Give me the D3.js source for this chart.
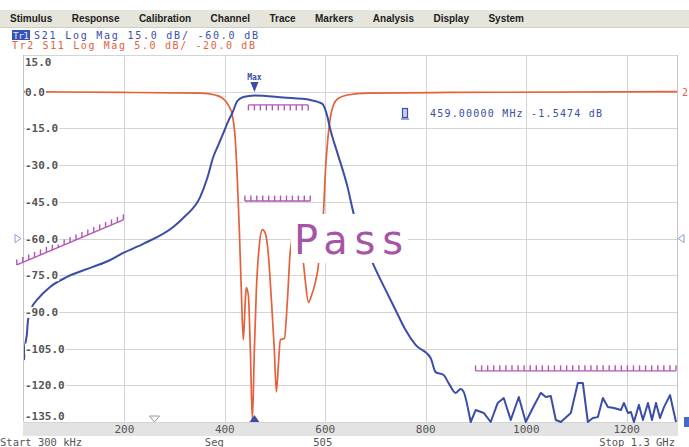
<!DOCTYPE html>
<html><head><meta charset="utf-8">
<script src="https://cdn.jsdelivr.net/npm/d3@7"></script>
<style>body{margin:0;background:#fff}svg{display:block}</style>
</head><body><svg id="c" width="689" height="447"></svg>
<script>
// ---------- data ----------
const menuItems = ["Stimulus","Response","Calibration","Channel","Trace","Markers","Analysis","Display","System"];
const tr1Label = "S21 Log Mag 15.0 dB/ -60.0 dB";
const tr2Label = "Tr2 S11 Log Mag 5.0 dB/ -20.0 dB";
const yTicks = [15,0,-15,-30,-45,-60,-75,-90,-105,-120,-135];
const xTicks = [200,400,600,800,1000,1200];
const xDomain = [0.3,1300];
const s21Domain = [-135,15];
const s11Domain = [-45,5];
const refS21 = -60;
const markerFreq = 459;
const markerText = "459.00000 MHz -1.5474 dB";

const s21Freq = [0.3,2.3,6.3,8.3,16.2,26.2,52.1,86.0,137.8,167.8,197.6,237.5,297.3,319.2,351.1,365.1,377.0,387.0,397.0,406.9,414.9,424.9,436.8,459,516.6,570.4,594.3,604.3,610.3,624.2,644.2,656.1,696.0,719.9,739.8,759.8,779.7,809.6,819.6,835.5,845.5,859.5,869.4,875.4,883.4,889.4,899.3,915.3,929.2,943.2,955.2,969.1,985.1,999.0,1013.0,1028.9,1038.9,1048.8,1058.8,1068.8,1088.7,1102.6,1112.6,1122.6,1132.5,1142.5,1152.5,1162.4,1174.4,1188.4,1194.3,1202.3,1208.3,1214.3,1224.2,1232.2,1242.2,1250.2,1258.2,1266.1,1274.1,1286.1,1298.0];
const s21Mag = [-109.7,-104.3,-98.6,-93.3,-88.0,-85.1,-79.8,-75.7,-71.6,-69.2,-65.9,-62.2,-55.3,-51.2,-43.0,-35.3,-26.7,-21.8,-16.9,-12.0,-8.7,-3.8,-2.2,-1.55,-2.4,-3.4,-5.0,-10.3,-15.7,-25.1,-38.9,-49.6,-70.8,-81.0,-89.2,-97.4,-103.5,-108.8,-114.6,-115.8,-119.1,-123.1,-121.5,-122.7,-128.9,-135,-130.1,-131.3,-135,-127.2,-125.2,-134.2,-124.8,-135,-129.3,-123.1,-124.8,-124.4,-134.2,-135,-131.3,-119.1,-119.1,-135,-133.4,-133.0,-125.2,-128.9,-129.3,-130.1,-127.2,-131.3,-130.9,-135,-128.0,-134.2,-127.2,-134.2,-127.2,-133.4,-128.9,-124.0,-135];

const s11Freq = [0.3,191.7,351.1,381.0,395.0,406.9,414.9,420.9,424.9,428.9,432.8,436.8,440.8,442.8,446.8,450.8,454.8,458.8,462.8,468.7,474.7,480.7,486.7,492.7,498.6,502.6,506.6,510.6,518.6,524.6,530.5,542.5,556.4,560.4,566.4,572.4,580.4,586.3,590.3,596.3,600.3,604.3,610.3,616.2,624.2,644.2,684.0,849.5,1300];
const s11Mag = [0,-0.1,-0.2,-0.45,-0.86,-1.8,-3.2,-6.6,-12.0,-18.8,-27.0,-33.8,-28.4,-26.7,-27.7,-35.2,-44.7,-35.2,-27.0,-20.9,-18.8,-19.3,-22.2,-28.4,-35.2,-40.9,-37.2,-33.8,-33.6,-28.4,-21.6,-18.2,-23.3,-25.9,-28.7,-27.8,-25.9,-23.6,-20.2,-16.5,-10.7,-7.0,-3.4,-1.8,-1.0,-0.45,-0.2,-0.1,0];

// limit lines (S21 units)
const limF1 = [-14,447,440,899];
const limF2 = [198,566,570,1298];
const limDb1 = [-70.8,-5.4,-44.7,-114.1];
const limDb2 = [-52.4,-5.4,-44.7,-114.1];
const limTeethDir = [-1,1,-1,-1]; // -1 teeth up, 1 teeth down

// ---------- drawing ----------
const svg = d3.select("#c");
const L=24, R=677, T=55, B=422;
const blue="#3b4da6", orange="#e6603a", purple="#b455b4", grid="#d4d4d4", lab="#555";
const mono="'DejaVu Sans Mono', monospace";

const x = d3.scaleLinear().domain(xDomain).range([L,R]);
const y21 = d3.scaleLinear().domain(s21Domain).range([B,T]);
const y11 = d3.scaleLinear().domain(s11Domain).range([B,T]);

// menu bar
svg.append("rect").attr("x",0).attr("y",10).attr("width",689).attr("height",17).attr("fill","#e5e5dc");
svg.append("line").attr("x1",0).attr("x2",689).attr("y1",27.5).attr("y2",27.5).attr("stroke","#cfcfc6");
const mg = svg.append("g");
const words = menuItems.map(w => mg.append("text").text(w).attr("y",22)
  .attr("font-family","'Liberation Sans Narrow','Liberation Sans',sans-serif").attr("font-weight","bold")
  .attr("font-size",10).attr("fill","#222"));
const widths = words.map(t => t.node().getComputedTextLength());
const span0 = 10, span1 = 524;
const gap = (span1-span0-d3.sum(widths))/(menuItems.length-1);
let cx = span0;
words.forEach((t,i)=>{ t.attr("x",cx); cx += widths[i]+gap; });

// trace headers
svg.append("rect").attr("x",12).attr("y",30).attr("width",18).attr("height",10).attr("fill","#3552b5");
svg.append("text").attr("x",13).attr("y",38.5).text("Tr1").attr("font-family",mono).attr("font-size",9.5).attr("fill","#dfe6ff").attr("textLength",16);
svg.append("text").attr("x",34).attr("y",38.5).text(tr1Label).attr("font-family",mono).attr("font-size",10).attr("fill",blue).attr("textLength",224);
svg.append("text").attr("x",12).attr("y",48.5).text(tr2Label).attr("font-family",mono).attr("font-size",10).attr("fill",orange).attr("textLength",243);

// grid
const gg = svg.append("g");
yTicks.forEach(t => gg.append("line").attr("x1",L).attr("x2",R).attr("y1",Math.round(y21(t))+0.5).attr("y2",Math.round(y21(t))+0.5).attr("stroke",grid));
xTicks.forEach(t => gg.append("line").attr("y1",T).attr("y2",B).attr("x1",Math.round(x(t))+0.5).attr("x2",Math.round(x(t))+0.5).attr("stroke",grid));
gg.append("line").attr("x1",L-0.5).attr("x2",L-0.5).attr("y1",T).attr("y2",B).attr("stroke","#c4c4c4");
gg.append("line").attr("x1",R+0.5).attr("x2",R+0.5).attr("y1",T).attr("y2",B).attr("stroke","#c4c4c4");

// x axis band & labels
svg.append("rect").attr("x",L-1).attr("y",B+1).attr("width",R-L+2).attr("height",13).attr("fill","#e3e3e3");
xTicks.forEach(t => svg.append("text").attr("x",x(t)).attr("y",B+11).attr("text-anchor","middle").text(t)
  .attr("font-family",mono).attr("font-size",11).attr("fill",lab));
const bt = (s,xx,anchor)=>svg.append("text").attr("x",xx).attr("y",446).attr("text-anchor",anchor).text(s)
  .attr("font-family",mono).attr("font-size",10.5).attr("fill",lab);
bt("Start 300 kHz",0,"start");
bt("Seg",x(400)-20,"start");
bt("505",x(600)-12,"start");
bt("Stop 1.3 GHz",R-2,"end");

// traces
svg.append("clipPath").attr("id","pc").append("rect").attr("x",L).attr("y",T).attr("width",R-L).attr("height",B-T+1);
const idx21 = s21Freq.map((d,i)=>i);
const split = s21Freq.findIndex(f => f >= 880);
const smooth21 = d3.line().curve(d3.curveMonotoneX).x(i=>x(s21Freq[i])).y(i=>y21(s21Mag[i]));
const sharp21 = d3.line().x(i=>x(s21Freq[i])).y(i=>y21(s21Mag[i]));
const line11 = d3.line().curve(d3.curveMonotoneX).x((d,i)=>x(s11Freq[i])).y((d,i)=>y11(s11Mag[i]));
svg.append("path").attr("d",line11(s11Freq)).attr("fill","none").attr("stroke",orange).attr("stroke-width",1.7).attr("clip-path","url(#pc)").attr("stroke-linejoin","round");
svg.append("path").attr("d",smooth21(idx21.slice(0,split+1))).attr("fill","none").attr("stroke",blue).attr("stroke-width",2).attr("clip-path","url(#pc)").attr("stroke-linejoin","round");
svg.append("path").attr("d",sharp21(idx21.slice(split))).attr("fill","none").attr("stroke",blue).attr("stroke-width",2).attr("clip-path","url(#pc)").attr("stroke-linejoin","round");

// limit lines (comb style)
limF1.forEach((f1,i)=>{
  const xa=x(f1), xb=x(limF2[i]), ya=y21(limDb1[i]), yb=y21(limDb2[i]);
  const g = svg.append("g").attr("stroke",purple).attr("stroke-width",1.4).attr("fill","none");
  g.append("line").attr("x1",xa).attr("y1",ya).attr("x2",xb).attr("y2",yb);
  const n = Math.round((xb-xa)/6);
  for(let k=0;k<=n;k++){
    const px = xa+(xb-xa)*k/n, py = ya+(yb-ya)*k/n;
    g.append("line").attr("x1",px).attr("x2",px).attr("y1",py).attr("y2",py+limTeethDir[i]*5.5);
  }
});

// y labels (with white background)
yTicks.forEach((t,i)=>{
  let yy = y21(t);
  if(i===0) yy += 7; if(i===yTicks.length-1) yy -= 6;
  const tx = svg.append("text").attr("x",25).attr("y",yy+4).text(t.toFixed(1))
    .attr("font-family",mono).attr("font-weight","bold").attr("font-size",11).attr("fill",lab);
  const bb = tx.node().getBBox();
  svg.insert("rect", () => tx.node()).attr("x",bb.x).attr("y",bb.y+1).attr("width",bb.width+1).attr("height",bb.height-2).attr("fill","#fff");
});

// reference arrows
const yr = y21(refS21);
svg.append("path").attr("d",`M15,${yr-4}L21,${yr}L15,${yr+4}Z`).attr("fill","#fff").attr("stroke","#8c9ad8");
svg.append("path").attr("d",`M684,${yr-4}L678,${yr}L684,${yr+4}Z`).attr("fill","#fff").attr("stroke","#8c9ad8");
svg.append("text").attr("x",682).attr("y",y11(0)+4).text("2").attr("font-family",mono).attr("font-size",10).attr("fill",orange);
svg.append("rect").attr("x",684).attr("y",B-5).attr("width",6).attr("height",10).attr("fill","#4a66c8");

// Pass annotation
svg.append("rect").attr("x",291).attr("y",214).attr("width",117).attr("height",49).attr("fill","#fff");
svg.append("text").attr("x",294).attr("y",254).text("Pass").attr("font-family","'DejaVu Sans',sans-serif")
  .attr("font-size",40).attr("fill","#a655a6").attr("textLength",109).attr("lengthAdjust","spacing");

// markers
const mx = x(markerFreq);
svg.append("text").attr("x",mx).attr("y",80).attr("text-anchor","middle").text("Max").attr("font-family",mono).attr("font-weight","bold").attr("font-size",8).attr("fill",blue);
svg.append("path").attr("d",`M${mx-4},${82}L${mx+4},${82}L${mx},${92}Z`).attr("fill",blue);
svg.append("path").attr("d",`M${mx-5},${B}L${mx+5},${B}L${mx},${B-7}Z`).attr("fill",blue);
const hx = x(260);
svg.append("path").attr("d",`M${hx-5},${416}L${hx+5},${416}L${hx},${422}Z`).attr("fill","#fff").attr("stroke","#999");

// readout
svg.append("rect").attr("x",402.5).attr("y",108.5).attr("width",5).attr("height",9).attr("fill","#c8d0f0").attr("stroke",blue).attr("stroke-width",1.2);
svg.append("line").attr("x1",401).attr("x2",409).attr("y1",119).attr("y2",119).attr("stroke",blue);
svg.append("text").attr("x",430).attr("y",117).text(markerText).attr("font-family",mono).attr("font-size",10).attr("fill",blue).attr("textLength",172);
</script></body></html>
